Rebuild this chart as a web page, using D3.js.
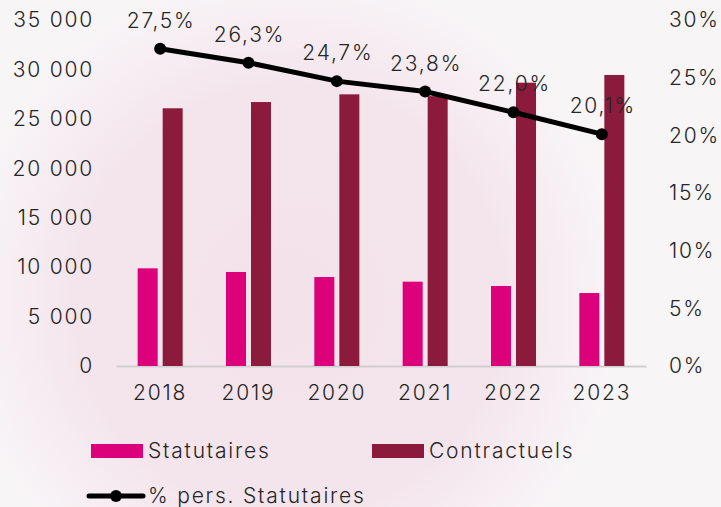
<!DOCTYPE html>
<html>
<head>
<meta charset="utf-8">
<script src="https://cdn.jsdelivr.net/npm/d3@7"></script>
<style>
  html, body { margin: 0; padding: 0; }
  body { width: 721px; height: 507px; overflow: hidden; }
  text { font-family: Inter, "Open Sans", sans-serif; font-weight: 300; letter-spacing: 1.8px; fill: #262626; }
</style>
</head>
<body>
<div id="chart"></div>
<script>
// data
var years = ['2018', '2019', '2020', '2021', '2022', '2023'];
var statutaires = [9880, 9510, 9000, 8530, 8090, 7380];
var contractuels = [26070, 26700, 27480, 27300, 28660, 29440];
var pctStatutaires = [27.5, 26.3, 24.7, 23.8, 22.0, 20.1];
var leftTicks = [0, 5000, 10000, 15000, 20000, 25000, 30000, 35000];
var rightTicks = [0, 5, 10, 15, 20, 25, 30];

var W = 721, H = 507;
var colStat = '#dc007a', colContr = '#8b1a3c';
var fs = 21;

var svg = d3.select('#chart').append('svg')
    .attr('width', W)
    .attr('height', H);

// soft pink background
var defs = svg.append('defs');
var bg = defs.append('radialGradient').attr('id', 'bgGlow');
bg.append('stop').attr('offset', '0%').attr('stop-color', '#f3e2ea');
bg.append('stop').attr('offset', '65%').attr('stop-color', '#f4e5ec');
bg.append('stop').attr('offset', '100%').attr('stop-color', '#f8f5f7');
svg.append('rect').attr('width', W).attr('height', H).attr('fill', '#f8f5f7');
svg.append('circle').attr('cx', 290).attr('cy', 300).attr('r', 330)
    .attr('fill', 'url(#bgGlow)');

var x = d3.scaleBand().domain(years).range([116, 646]);
var y = d3.scaleLinear().domain([0, 35000]).range([366, 20]);
var yPct = d3.scaleLinear().domain([0, 30]).range([366, 20]);

var fmtThousands = function(v) { return d3.format(',')(v).replace(/,/g, ' '); };
var fmtPct = function(v) { return d3.format('.1f')(v).replace('.', ',') + '%'; };

// axes
var leftAxis = svg.append('g').attr('transform', 'translate(116,0)')
    .call(d3.axisLeft(y).tickValues(leftTicks).tickSize(0).tickPadding(22)
        .tickFormat(fmtThousands));
var rightAxis = svg.append('g').attr('transform', 'translate(646,0)')
    .call(d3.axisRight(yPct).tickValues(rightTicks).tickSize(0).tickPadding(23)
        .tickFormat(function(d) { return d + '%'; }));
var bottomAxis = svg.append('g').attr('transform', 'translate(0,366)')
    .call(d3.axisBottom(x).tickSize(0).tickPadding(19));

[leftAxis, rightAxis].forEach(function(a) { a.select('.domain').remove(); });
bottomAxis.select('.domain').attr('stroke', '#d0d0d0').attr('stroke-width', 2);
svg.selectAll('.tick text').attr('font-size', fs).style('fill', '#262626')
    .attr('font-family', null);

// bars
var barW = 20, gap = 5;
svg.append('g').selectAll('rect')
    .data(statutaires).enter()
    .append('rect')
        .attr('x', function(d, i) { return x(years[i]) + x.bandwidth() / 2 - gap / 2 - barW; })
        .attr('y', function(d) { return y(d); })
        .attr('width', barW)
        .attr('height', function(d) { return y(0) - y(d); })
        .attr('fill', colStat);

svg.append('g').selectAll('rect')
    .data(contractuels).enter()
    .append('rect')
        .attr('x', function(d, i) { return x(years[i]) + x.bandwidth() / 2 + gap / 2; })
        .attr('y', function(d) { return y(d); })
        .attr('width', barW)
        .attr('height', function(d) { return y(0) - y(d); })
        .attr('fill', colContr);

// percentage line
var cx = function(d, i) { return x(years[i]) + x.bandwidth() / 2; };
var line = d3.line()
    .x(cx)
    .y(function(d) { return yPct(d); });

svg.append('path')
    .datum(pctStatutaires)
    .attr('d', line)
    .attr('fill', 'none')
    .attr('stroke', '#000')
    .attr('stroke-width', 5);

svg.append('g').selectAll('circle')
    .data(pctStatutaires).enter()
    .append('circle')
        .attr('cx', cx)
        .attr('cy', function(d) { return yPct(d); })
        .attr('r', 6)
        .attr('fill', '#000');

svg.append('g').selectAll('text')
    .data(pctStatutaires).enter()
    .append('text')
        .attr('x', function(d, i) { return cx(d, i) + 1; })
        .attr('y', function(d) { return yPct(d) - 21; })
        .attr('text-anchor', 'middle')
        .attr('font-size', fs)
        .text(fmtPct);

// legend
var legend = svg.append('g');
legend.append('rect').attr('x', 91).attr('y', 444).attr('width', 52).attr('height', 14).attr('fill', colStat);
legend.append('text').attr('x', 148).attr('y', 458).attr('font-size', fs).text('Statutaires');
legend.append('rect').attr('x', 372).attr('y', 444).attr('width', 52).attr('height', 14).attr('fill', colContr);
legend.append('text').attr('x', 429).attr('y', 458).attr('font-size', fs).text('Contractuels');
legend.append('line').attr('x1', 89).attr('x2', 143).attr('y1', 496).attr('y2', 496)
    .attr('stroke', '#000').attr('stroke-width', 5).attr('stroke-linecap', 'round');
legend.append('circle').attr('cx', 116).attr('cy', 496).attr('r', 6).attr('fill', '#000');
legend.append('text').attr('x', 148).attr('y', 503).attr('font-size', fs).text('% pers. Statutaires');
</script>
</body>
</html>
